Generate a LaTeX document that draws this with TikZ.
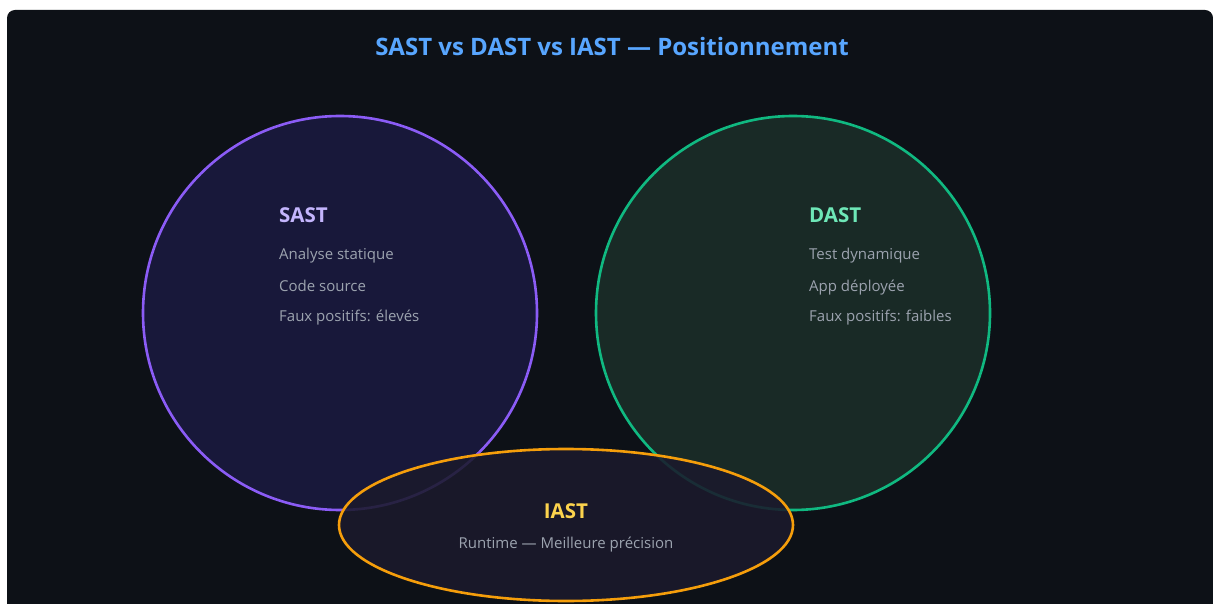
\documentclass[tikz,border=0pt]{standalone}
\usepackage{fontspec}
\setmainfont{Open Sans}
\definecolor{bgdark}{HTML}{0D1117}
\definecolor{titleblue}{HTML}{58A6FF}
\definecolor{sastline}{HTML}{8B5CF6}
\definecolor{sastfill}{HTML}{18183A}
\definecolor{sasttext}{HTML}{C4B5FD}
\definecolor{dastline}{HTML}{10B981}
\definecolor{dastfill}{HTML}{192A26}
\definecolor{dasttext}{HTML}{6EE7B7}
\definecolor{iastline}{HTML}{F59E0B}
\definecolor{iastfill}{HTML}{1B1A2C}
\definecolor{iasttext}{HTML}{FCD34D}
\definecolor{bodygray}{HTML}{9CA3AF}
\begin{document}
\begin{tikzpicture}[x=1pt, y=-1pt,
  heading/.style={font=\fontsize{20.5}{24}\selectfont\bfseries, anchor=base west, inner sep=0pt},
  item/.style={font=\fontsize{15}{18}\selectfont, text=bodygray, anchor=base west, inner sep=0pt}]
\useasboundingbox (0,0) rectangle (1213,604);
\fill[white] (0,0) rectangle (1213,604);
\fill[bgdark, rounded corners=8pt] (7,10) rectangle (1213,640);
% Title
\node[font=\fontsize{24}{28}\selectfont\bfseries, text=titleblue, anchor=base, inner sep=0pt] (title) at (612,56) {SAST vs DAST vs IAST — Positionnement};
% SAST circle
\def\sx{340}
\def\dx{793}
\def\cy{313}
\filldraw[fill=sastfill, draw=sastline, line width=2.6pt] (\sx,\cy) circle[radius=197pt];
% DAST circle
\filldraw[fill=dastfill, draw=dastline, line width=2.6pt] (\dx,\cy) circle[radius=197pt];
% IAST ellipse on top, lets the circle edges show through a little
\fill[iastfill, fill opacity=0.88] (566,525) ellipse[x radius=227pt, y radius=76pt];
\draw[iastline, line width=2.6pt] (566,525) ellipse[x radius=227pt, y radius=76pt];
% SAST text
\node[heading, text=sasttext] (sast) at (279,223) {SAST};
\node[item] (sast1) at (279,260) {Analyse statique};
\node[item] (sast2) at (279,291) {Code source};
\node[item] (sast3) at (279,321) {Faux positifs: élevés};
% DAST text
\node[heading, text=dasttext] (dast) at (809,223) {DAST};
\node[item] (dast1) at (809,260) {Test dynamique};
\node[item] (dast2) at (809,291) {App déployée};
\node[item] (dast3) at (809,321) {Faux positifs: faibles};
% IAST text
\node[heading, text=iasttext, anchor=base] (iast) at (566,518) {IAST};
\node[item, anchor=base] (iast1) at (566,548) {Runtime — Meilleure précision};
\end{tikzpicture}
\end{document}
